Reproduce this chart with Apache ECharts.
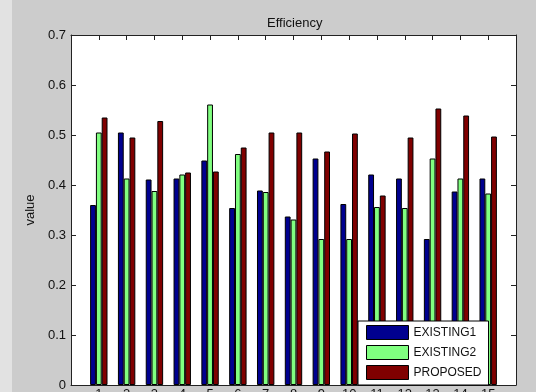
<!DOCTYPE html>
<html>
<head>
<meta charset="utf-8">
<script src="https://cdn.jsdelivr.net/npm/echarts@6/dist/echarts.min.js"></script>
<style>
html,body{margin:0;padding:0;background:#cccccc;overflow:hidden;}
#c{width:536px;height:392px;}
</style>
</head>
<body>
<div id="c"></div>
<script>
var categories = [1,2,3,4,5,6,7,8,9,10,11,12,13,14,15];
var existing1 = [0.360,0.505,0.411,0.413,0.449,0.354,0.389,0.337,0.453,0.362,0.421,0.413,0.292,0.387,0.413];
var existing2 = [0.505,0.413,0.388,0.421,0.561,0.462,0.386,0.331,0.292,0.292,0.356,0.354,0.453,0.413,0.383];
var proposed  = [0.535,0.495,0.528,0.425,0.427,0.475,0.505,0.505,0.467,0.503,0.379,0.495,0.553,0.539,0.497];
var yTicks = [0,0.1,0.2,0.3,0.4,0.5,0.6,0.7];

var FONT = "'Liberation Sans', Arial, sans-serif";
function pairs(arr){ return categories.map(function(c,i){ return [c, arr[i]]; }); }

var chart = echarts.init(document.getElementById('c'), null, {renderer:'canvas'});
var axisLineStyle = {color:'#222', width:1};
var barCommon = {
  type:'bar', barWidth:5.8, barGap:'0%', xAxisIndex:0, yAxisIndex:0,
  animation:false
};
chart.setOption({
  backgroundColor:'#cccccc',
  animation:false,
  graphic:[{type:'rect', left:0, top:0, shape:{width:12, height:392}, style:{fill:'#e2e2e2'}, z:-10}],
  title:{text:'Efficiency', left:262, top:12,
    textStyle:{fontFamily:FONT, fontSize:13, fontWeight:'normal', color:'#111'}},
  grid:{left:71, right:20, top:35, bottom:7, show:true, backgroundColor:'#ffffff', borderWidth:0,
    containLabel:false, outerBoundsMode:'none'},
  legend:{
    orient:'vertical', left:358, top:321,
    backgroundColor:'#ffffff', borderColor:'#000', borderWidth:1, borderRadius:0,
    padding:[4,7,5,8], itemWidth:42, itemHeight:14, itemGap:5,
    icon:'rect',
    itemStyle:{borderColor:'#000', borderWidth:1},
    textStyle:{fontFamily:FONT, fontSize:12, color:'#111'},
    data:['EXISTING1','EXISTING2','PROPOSED']
  },
  xAxis:[
    {type:'value', min:0, max:16, interval:1, position:'bottom',
     axisLine:{show:true, lineStyle:axisLineStyle},
     axisTick:{show:true, inside:true, length:5, lineStyle:axisLineStyle},
     splitLine:{show:false},
     axisLabel:{margin:3, fontFamily:FONT, fontSize:13, color:'#111',
       formatter:function(v){ return categories.indexOf(v) >= 0 ? String(v) : ''; }}},
    {type:'value', min:0, max:16, interval:1, position:'top',
     axisLine:{show:true, onZero:false, lineStyle:axisLineStyle},
     axisTick:{show:true, inside:true, length:5, lineStyle:axisLineStyle},
     splitLine:{show:false}, axisLabel:{show:false}}
  ],
  yAxis:[
    {type:'value', min:0, max:0.7, interval:0.1, position:'left',
     name:'value', nameLocation:'middle', nameGap:33, nameRotate:90,
     nameTextStyle:{fontFamily:FONT, fontSize:13, color:'#111'},
     axisLine:{show:true, lineStyle:axisLineStyle},
     axisTick:{show:true, inside:true, length:5, lineStyle:axisLineStyle},
     splitLine:{show:false},
     axisLabel:{margin:5, fontFamily:FONT, fontSize:13, color:'#111',
       formatter:function(v){ var r = Math.round(v*10)/10; return yTicks.indexOf(r)>=0 ? (r===0?'0':r.toFixed(1)) : ''; }}},
    {type:'value', min:0, max:0.7, interval:0.1, position:'right',
     axisLine:{show:true, onZero:false, lineStyle:axisLineStyle},
     axisTick:{show:true, inside:true, length:5, lineStyle:axisLineStyle},
     splitLine:{show:false}, axisLabel:{show:false}}
  ],
  series:[
    Object.assign({name:'EXISTING1', data:pairs(existing1),
      itemStyle:{color:'#00008f', borderColor:'#000', borderWidth:1}}, barCommon),
    Object.assign({name:'EXISTING2', data:pairs(existing2),
      itemStyle:{color:'#80ff80', borderColor:'#000', borderWidth:1}}, barCommon),
    Object.assign({name:'PROPOSED', data:pairs(proposed),
      itemStyle:{color:'#800000', borderColor:'#000', borderWidth:1}}, barCommon)
  ]
});
</script>
</body>
</html>
